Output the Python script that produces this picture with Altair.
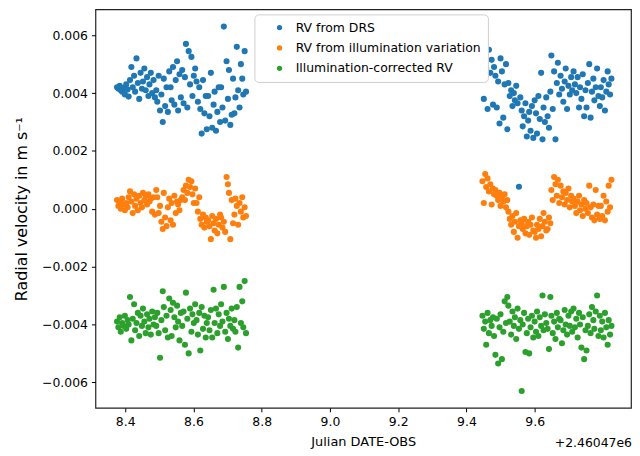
import altair as alt
import pandas as pd

# Julian date minus 2460470 (offset shown as +2.46047e6)
t_left = [
    8.376, 8.380, 8.384, 8.387, 8.391, 8.395, 8.399, 8.403, 8.407, 8.410,
    8.414, 8.418, 8.422, 8.426, 8.429, 8.433, 8.437, 8.441, 8.445, 8.449,
    8.452, 8.456, 8.460, 8.464, 8.468, 8.471, 8.475, 8.479, 8.483, 8.487,
    8.491, 8.494, 8.498, 8.502, 8.506, 8.510, 8.513, 8.517, 8.521, 8.525,
    8.529, 8.533, 8.536, 8.540, 8.544, 8.548, 8.552, 8.555, 8.559, 8.563,
    8.567, 8.571, 8.575, 8.578, 8.582, 8.586, 8.590, 8.594, 8.597, 8.601,
    8.605, 8.609, 8.613, 8.617, 8.620, 8.624, 8.628, 8.632, 8.636, 8.639,
    8.643, 8.647, 8.651, 8.655, 8.659, 8.662, 8.666, 8.670, 8.674, 8.678,
    8.681, 8.685, 8.689, 8.693, 8.697, 8.701, 8.704, 8.708, 8.712, 8.716,
    8.720, 8.723, 8.727, 8.731, 8.735, 8.739, 8.743, 8.746, 8.750, 8.754,
]
t_right = [
    9.447, 9.451, 9.455, 9.458, 9.462, 9.466, 9.470, 9.474, 9.478, 9.481,
    9.485, 9.489, 9.493, 9.497, 9.500, 9.504, 9.508, 9.512, 9.516, 9.520,
    9.523, 9.527, 9.531, 9.535, 9.539, 9.542, 9.546, 9.550, 9.554, 9.558,
    9.562, 9.565, 9.569, 9.573, 9.577, 9.581, 9.584, 9.588, 9.592, 9.596,
    9.600, 9.604, 9.607, 9.611, 9.615, 9.619, 9.623, 9.626, 9.630, 9.634,
    9.638, 9.642, 9.646, 9.649, 9.653, 9.657, 9.661, 9.665, 9.668, 9.672,
    9.676, 9.680, 9.684, 9.688, 9.691, 9.695, 9.699, 9.703, 9.707, 9.710,
    9.714, 9.718, 9.722, 9.726, 9.730, 9.733, 9.737, 9.741, 9.745, 9.749,
    9.752, 9.756, 9.760, 9.764, 9.768, 9.772, 9.775, 9.779, 9.783, 9.787,
    9.791, 9.794, 9.798, 9.802, 9.806, 9.810, 9.814, 9.817, 9.821, 9.825,
]

drs_left = [
    4.20e-3, 4.15e-3, 4.25e-3, 4.10e-3, 4.05e-3, 4.18e-3, 3.95e-3, 4.30e-3, 4.12e-3, 3.88e-3,
    4.45e-3, 4.90e-3, 4.20e-3, 4.60e-3, 4.05e-3, 5.20e-3, 4.35e-3, 3.80e-3, 4.70e-3, 4.15e-3,
    4.40e-3, 4.85e-3, 4.10e-3, 4.55e-3, 3.90e-3, 4.30e-3, 4.70e-3, 4.00e-3, 4.45e-3, 3.85e-3,
    4.10e-3, 3.70e-3, 4.60e-3, 3.40e-3, 3.95e-3, 3.00e-3, 4.50e-3, 3.55e-3, 4.20e-3, 3.35e-3,
    4.75e-3, 4.20e-3, 3.75e-3, 4.90e-3, 3.60e-3, 4.45e-3, 5.10e-3, 3.40e-3, 4.65e-3, 3.85e-3,
    4.80e-3, 3.65e-3, 4.55e-3, 5.70e-3, 3.50e-3, 5.45e-3, 4.30e-3, 5.25e-3, 3.90e-3, 4.60e-3,
    4.85e-3, 4.40e-3, 3.70e-3, 4.20e-3, 3.45e-3, 2.60e-3, 4.45e-3, 3.30e-3, 3.90e-3, 2.75e-3,
    3.90e-3, 3.20e-3, 4.70e-3, 2.80e-3, 3.60e-3, 4.05e-3, 2.70e-3, 3.35e-3, 4.20e-3, 3.00e-3,
    4.20e-3, 3.50e-3, 6.30e-3, 3.05e-3, 5.10e-3, 3.80e-3, 4.80e-3, 2.90e-3, 3.25e-3, 4.50e-3,
    3.30e-3, 3.85e-3, 5.60e-3, 4.10e-3, 3.50e-3, 5.00e-3, 4.50e-3, 3.95e-3, 5.45e-3, 4.05e-3,
]
drs_right = [
    5.25e-3, 3.80e-3, 5.00e-3, 4.85e-3, 3.45e-3, 5.50e-3, 4.70e-3, 5.15e-3, 3.60e-3, 4.90e-3,
    4.60e-3, 3.50e-3, 4.40e-3, 2.95e-3, 5.20e-3, 4.75e-3, 3.15e-3, 4.30e-3, 5.00e-3, 2.75e-3,
    4.35e-3, 3.90e-3, 4.10e-3, 3.55e-3, 4.00e-3, 3.75e-3, 4.25e-3, 3.65e-3, 0.76e-3, 3.85e-3,
    3.40e-3, 2.85e-3, 3.20e-3, 3.65e-3, 2.50e-3, 3.05e-3, 3.35e-3, 2.70e-3, 3.55e-3, 2.45e-3,
    3.75e-3, 3.30e-3, 2.60e-3, 3.90e-3, 3.10e-3, 4.70e-3, 2.40e-3, 3.50e-3, 3.00e-3, 3.85e-3,
    3.20e-3, 2.80e-3, 4.05e-3, 5.30e-3, 3.45e-3, 4.75e-3, 2.40e-3, 4.35e-3, 5.05e-3, 3.95e-3,
    4.60e-3, 4.15e-3, 3.70e-3, 4.40e-3, 4.85e-3, 3.45e-3, 4.25e-3, 3.95e-3, 4.55e-3, 4.10e-3,
    4.75e-3, 4.30e-3, 4.00e-3, 4.55e-3, 3.50e-3, 4.20e-3, 3.80e-3, 4.65e-3, 3.20e-3, 4.10e-3,
    3.50e-3, 4.35e-3, 5.00e-3, 3.15e-3, 4.05e-3, 4.50e-3, 3.75e-3, 4.20e-3, 4.85e-3, 3.90e-3,
    3.55e-3, 4.20e-3, 3.85e-3, 4.45e-3, 3.40e-3, 4.05e-3, 4.75e-3, 4.30e-3, 3.95e-3, 4.50e-3,
]

illum_left = [
    0.30e-3, 0.10e-3, 0.25e-3, 0.00e-3, 0.35e-3, 0.15e-3, -0.05e-3, 0.20e-3, 0.05e-3, 0.40e-3,
    0.60e-3, 0.25e-3, -0.15e-3, 0.50e-3, 0.10e-3, 0.35e-3, -0.05e-3, 0.45e-3, 0.20e-3, 0.05e-3,
    0.55e-3, 0.30e-3, 0.45e-3, 0.15e-3, 0.50e-3, 0.25e-3, 0.35e-3, -0.10e-3, 0.40e-3, -0.20e-3,
    0.65e-3, 0.40e-3, -0.15e-3, 0.10e-3, -0.45e-3, -0.70e-3, 0.55e-3, -0.30e-3, -0.60e-3, 0.05e-3,
    0.35e-3, -0.40e-3, 0.20e-3, -0.55e-3, 0.45e-3, -0.15e-3, 0.25e-3, 0.15e-3, -0.05e-3, 0.30e-3,
    0.40e-3, 0.65e-3, 0.30e-3, 0.80e-3, 0.55e-3, 1.00e-3, 0.75e-3, 0.95e-3, 0.50e-3, 0.20e-3,
    0.70e-3, 0.20e-3, -0.10e-3, 0.40e-3, -0.35e-3, -0.55e-3, -0.20e-3, -0.65e-3, -0.30e-3, -0.45e-3,
    -0.40e-3, -0.60e-3, -1.05e-3, -0.25e-3, -0.50e-3, -0.75e-3, -0.35e-3, -0.85e-3, -0.55e-3, -0.20e-3,
    -0.30e-3, -0.65e-3, -0.45e-3, -0.80e-3, 1.10e-3, 0.85e-3, 0.55e-3, -1.05e-3, 0.30e-3, -0.50e-3,
    -0.20e-3, 0.35e-3, 0.10e-3, -0.55e-3, 0.20e-3, -0.10e-3, 0.40e-3, -0.30e-3, 0.05e-3, -0.25e-3,
]
illum_right = [
    0.95e-3, 0.20e-3, 1.20e-3, 0.75e-3, 1.05e-3, 0.60e-3, 0.85e-3, 0.15e-3, 0.70e-3, 0.50e-3,
    0.65e-3, 0.45e-3, 0.30e-3, 0.55e-3, 0.10e-3, 0.40e-3, 0.25e-3, 0.50e-3, 0.05e-3, 0.30e-3,
    -0.10e-3, -0.35e-3, -0.55e-3, -0.25e-3, -0.80e-3, -0.45e-3, -0.15e-3, -1.00e-3, -0.60e-3, -0.40e-3,
    -0.50e-3, -0.70e-3, -0.35e-3, -0.85e-3, -0.60e-3, -0.45e-3, -0.90e-3, -0.55e-3, -0.30e-3, -0.75e-3,
    -0.80e-3, -1.00e-3, -0.55e-3, -0.70e-3, -0.35e-3, -0.95e-3, -0.60e-3, -0.15e-3, -0.45e-3, -0.75e-3,
    -0.70e-3, -0.30e-3, -0.50e-3, 0.65e-3, 0.30e-3, 1.10e-3, 0.85e-3, 0.45e-3, 1.00e-3, 0.20e-3,
    0.80e-3, 0.40e-3, 0.60e-3, 0.15e-3, 0.55e-3, 0.30e-3, 0.70e-3, 0.05e-3, 0.45e-3, 0.25e-3,
    0.35e-3, 0.10e-3, -0.15e-3, 0.25e-3, 0.45e-3, -0.05e-3, 0.15e-3, -0.25e-3, 0.30e-3, 0.00e-3,
    0.20e-3, -0.15e-3, 0.80e-3, 0.05e-3, -0.30e-3, 0.15e-3, -0.40e-3, 0.65e-3, -0.20e-3, 0.10e-3,
    -0.35e-3, 0.10e-3, -0.25e-3, 0.45e-3, -0.40e-3, 0.25e-3, -0.10e-3, 0.80e-3, 0.05e-3, 1.00e-3,
]

corr_left = [
    -3.90e-3, -4.10e-3, -3.75e-3, -4.25e-3, -3.95e-3, -4.05e-3, -3.70e-3, -4.15e-3, -3.85e-3, -4.00e-3,
    -3.05e-3, -4.55e-3, -3.80e-3, -3.30e-3, -4.20e-3, -3.95e-3, -3.60e-3, -4.40e-3, -3.70e-3, -4.05e-3,
    -3.45e-3, -3.90e-3, -4.30e-3, -3.65e-3, -4.10e-3, -3.80e-3, -4.35e-3, -3.55e-3, -4.00e-3, -3.75e-3,
    -4.05e-3, -3.60e-3, -4.30e-3, -5.15e-3, -3.85e-3, -2.85e-3, -3.40e-3, -4.20e-3, -3.70e-3, -4.45e-3,
    -3.10e-3, -3.50e-3, -4.40e-3, -3.25e-3, -3.75e-3, -4.10e-3, -3.35e-3, -3.90e-3, -4.55e-3, -3.60e-3,
    -4.05e-3, -3.55e-3, -4.70e-3, -2.90e-3, -3.80e-3, -5.00e-3, -3.45e-3, -4.25e-3, -3.65e-3, -3.95e-3,
    -3.30e-3, -3.85e-3, -4.35e-3, -3.60e-3, -4.90e-3, -3.40e-3, -4.15e-3, -3.70e-3, -4.45e-3, -3.95e-3,
    -3.75e-3, -4.20e-3, -3.50e-3, -4.45e-3, -2.80e-3, -3.95e-3, -3.45e-3, -4.30e-3, -3.65e-3, -4.05e-3,
    -3.30e-3, -3.90e-3, -2.70e-3, -4.25e-3, -3.60e-3, -4.50e-3, -3.80e-3, -4.05e-3, -3.45e-3, -4.15e-3,
    -3.85e-3, -4.25e-3, -3.40e-3, -4.80e-3, -2.70e-3, -3.95e-3, -3.20e-3, -4.10e-3, -2.50e-3, -4.30e-3,
]
corr_right = [
    -3.70e-3, -4.15e-3, -3.90e-3, -4.70e-3, -3.60e-3, -4.30e-3, -3.85e-3, -4.05e-3, -3.75e-3, -4.40e-3,
    -5.05e-3, -3.80e-3, -5.35e-3, -4.10e-3, -3.65e-3, -5.20e-3, -4.25e-3, -3.20e-3, -3.95e-3, -3.05e-3,
    -3.35e-3, -3.90e-3, -4.35e-3, -3.55e-3, -4.05e-3, -3.75e-3, -4.50e-3, -3.45e-3, -4.15e-3, -3.85e-3,
    -6.30e-3, -4.00e-3, -3.60e-3, -4.95e-3, -4.30e-3, -3.80e-3, -5.00e-3, -4.10e-3, -3.70e-3, -4.45e-3,
    -3.90e-3, -4.25e-3, -3.55e-3, -4.40e-3, -3.75e-3, -4.05e-3, -3.00e-3, -4.20e-3, -3.65e-3, -3.95e-3,
    -4.15e-3, -4.85e-3, -3.05e-3, -3.70e-3, -4.30e-3, -3.90e-3, -4.50e-3, -3.60e-3, -4.10e-3, -3.80e-3,
    -3.85e-3, -4.65e-3, -4.20e-3, -3.50e-3, -4.00e-3, -4.35e-3, -3.70e-3, -4.05e-3, -3.55e-3, -4.25e-3,
    -3.45e-3, -4.10e-3, -3.80e-3, -4.45e-3, -3.60e-3, -4.00e-3, -4.80e-3, -3.75e-3, -5.20e-3, -4.20e-3,
    -4.90e-3, -4.05e-3, -3.65e-3, -4.30e-3, -3.40e-3, -3.85e-3, -4.15e-3, -3.55e-3, -3.00e-3, -4.40e-3,
    -3.70e-3, -4.20e-3, -3.90e-3, -4.45e-3, -3.60e-3, -4.10e-3, -4.70e-3, -3.85e-3, -4.35e-3, -4.05e-3,
]

series_names = ["RV from DRS", "RV from illumination variation", "Illumination-corrected RV"]
series_colors = ["#1f77b4", "#ff7f0e", "#2ca02c"]
x_ticks = [8.4, 8.6, 8.8, 9.0, 9.2, 9.4, 9.6]
y_ticks = [-0.006, -0.004, -0.002, 0.0, 0.002, 0.004, 0.006]

times = t_left + t_right
frames = []
for k, (name, vals) in enumerate(zip(series_names, [drs_left + drs_right,
                                                     illum_left + illum_right,
                                                     corr_left + corr_right])):
    frames.append(pd.DataFrame({"t": times, "rv": vals, "series": name, "k": k}))
df = pd.concat(frames, ignore_index=True)

W, H = 539, 401
FONT = "DejaVu Sans"

points = alt.Chart(df).mark_circle(size=38, opacity=1).encode(
    x=alt.X("t:Q",
            scale=alt.Scale(domain=[8.3127, 9.8824], nice=False, zero=False),
            axis=alt.Axis(values=x_ticks, format=".1f", title="Julian DATE-OBS",
                          titlePadding=7)),
    y=alt.Y("rv:Q",
            scale=alt.Scale(domain=[-0.006883, 0.006893], nice=False, zero=False),
            axis=alt.Axis(values=y_ticks, format=".3f", title="Radial velocity in m s⁻¹",
                          titleFontSize=16, titlePadding=12)),
    color=alt.Color("series:N",
                    scale=alt.Scale(domain=series_names, range=series_colors),
                    title=None,
                    legend=alt.Legend(orient="none", legendX=160, legendY=5,
                                      symbolType="circle", symbolSize=28,
                                      symbolStrokeWidth=0, symbolOffset=12,
                                      labelFontSize=12.5, labelFont=FONT,
                                      labelColor="black", labelOffset=10,
                                      labelLimit=400,
                                      rowPadding=7.5, padding=7,
                                      fillColor="white", strokeColor="#cfcfcf",
                                      cornerRadius=4)),
    order=alt.Order("k:Q"),
)

offset = alt.Chart(pd.DataFrame({"txt": ["+2.46047e6"]})).mark_text(
    align="right", baseline="middle", fontSize=12.5, font=FONT, color="black"
).encode(text="txt:N", x=alt.value(W + 1), y=alt.value(H + 35))

chart = alt.layer(points, offset).properties(
    width=W, height=H,
    autosize=alt.AutoSizeParams(type="none"),
    padding={"left": 88, "top": 0, "right": 1, "bottom": 44},
).configure_view(
    stroke="#222222", strokeWidth=1.2
).configure_axis(
    grid=False, domain=False,
    labelFont=FONT, labelFontSize=12.5, labelColor="black", labelPadding=4,
    titleFont=FONT, titleFontSize=13, titleFontWeight="normal", titleColor="black",
    tickColor="black", tickSize=4, tickWidth=1,
)

chart.save("out.html", embed_options={"renderer": "svg", "actions": False})
